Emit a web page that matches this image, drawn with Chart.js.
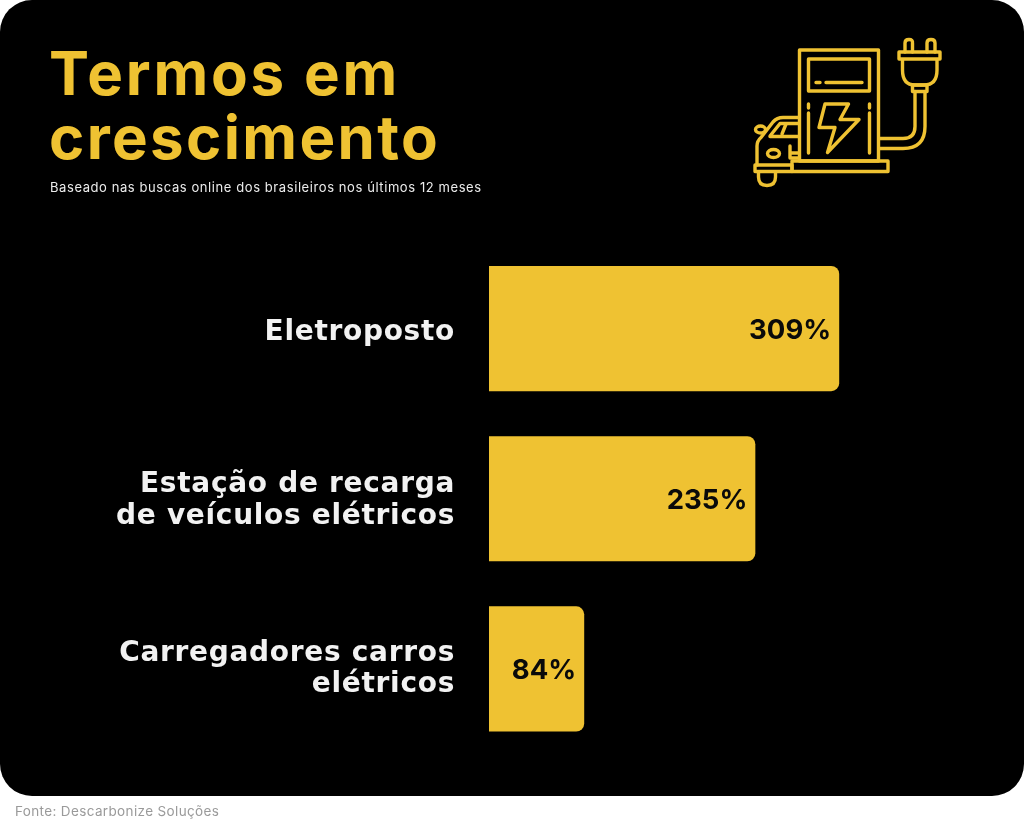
<!DOCTYPE html>
<html lang="pt-BR"><head><meta charset="utf-8">
<style>
html,body{margin:0;padding:0;background:#fff;width:1024px;height:819px;overflow:hidden;font-family:Inter,"Open Sans",sans-serif}
#panel{position:absolute;left:0;top:0;width:1024px;height:796px;background:#000;border-radius:32px}
#chartbox{position:absolute;left:0;top:0;width:1024px;height:819px}
.t{position:absolute;white-space:nowrap}
#t1,#t2{left:49px;color:#efc232;font-weight:700;font-size:60px;line-height:64px;letter-spacing:2.35px}
#t1{top:41px;letter-spacing:2.8px}#t2{top:105px}
#sub{left:50px;top:179px;color:#ececec;font-size:13px;font-weight:400;line-height:16px;letter-spacing:.58px}
#src{left:15px;top:802px;color:#9a9a9a;font-size:13.5px;line-height:18px;letter-spacing:.36px}
svg{position:absolute;left:740px;top:30px}
</style></head><body>
<div id="panel"></div>
<div id="chartbox"><canvas id="c" width="1024" height="819"></canvas></div>
<div class="t" id="t1">Termos em</div>
<div class="t" id="t2">crescimento</div>
<div class="t" id="sub">Baseado nas buscas online dos brasileiros nos últimos 12 meses</div>
<div class="t" id="src">Fonte: Descarbonize Soluções</div>
<svg width="220" height="170" viewBox="740 30 220 170" fill="none" stroke="#efc232" stroke-width="3.4" stroke-linecap="round" stroke-linejoin="round">
<rect x="799.5" y="50" width="79" height="111"/>
<rect x="808.5" y="59" width="61" height="32"/>
<path d="M816 82.5h4M826 82.5h36M808.5 104v4M808.5 113v40M869.5 104v4M869.5 113v40"/>
<path d="M825 104H848.5L840 119.5H859L827.5 152.5L835 127.5H819Z"/>
<rect x="792" y="161" width="96" height="10.5"/>
<path d="M879 138.5H903Q915 138.5 915 126.5V91.5M879 148.5H903Q925 148.5 925 126.5V91.5"/>
<rect x="912.5" y="85" width="14.5" height="6.5"/>
<path d="M899 52H940V59H899ZM902.5 59V70Q902.5 85 915 85H924Q937 85 937 70V59"/>
<path d="M905 52V43Q905 39.500 909 39.500T912.500 43V52M927 52V43Q927 39.500 931 39.500T935 43V52"/>
<path d="M799 117.500H783Q777 117.500 773 122L761 137.500Q757 141 757 146V165M770 136L780 123.500H799M770 136.500H799"/>
<ellipse cx="760.500" cy="129.500" rx="5" ry="3.500"/>
<ellipse cx="773.500" cy="153.500" rx="6" ry="4"/>
<path d="M790 153H799M790 146V158H799M755 165H792V171.500H755ZM758.500 172V177Q758.500 185.500 767 185.500T775.500 177V172M786 124L782 134"/>
</svg>
<script src="https://cdn.jsdelivr.net/npm/chart.js@4/dist/chart.umd.js"></script>
<script>
const categories = [["Eletroposto"],["Estação de recarga","de veículos elétricos"],["Carregadores carros","elétricos"]];
const growth = [309,235,84];
const gold = "#efc232";
const labelNudge = [4,2,0];
const tickStyle = {id:"tickStyle",beforeDraw(chart){
  chart.ctx.letterSpacing="0.7px";
  chart.scales.y.getLabelItems().forEach((item,i)=>{item.options.translation[1]+=labelNudge[i];});
}};
const valueLabels = {id:"valueLabels",afterDatasetsDraw(chart){
  const {ctx}=chart;
  chart.getDatasetMeta(0).data.forEach((bar,i)=>{
    ctx.save();
    ctx.letterSpacing="0px";ctx.font='700 27.5px Inter';ctx.fillStyle="#0a0a0a";ctx.textAlign="right";ctx.textBaseline="middle";
    ctx.fillText(growth[i]+"%",bar.x-8,bar.y+2);
    ctx.restore();
  });
}};
new Chart(document.getElementById("c"),{
  type:"bar",
  data:{labels:categories,datasets:[{data:growth,backgroundColor:gold,borderWidth:0,
    borderRadius:{topRight:8,bottomRight:8,topLeft:0,bottomLeft:0},borderSkipped:false,
    barPercentage:0.736,categoryPercentage:1}]},
  options:{indexAxis:"y",responsive:false,animation:false,
    layout:{padding:{top:243.5,bottom:65,left:0,right:127}},
    plugins:{legend:{display:false},tooltip:{enabled:false}},
    scales:{
      x:{min:0,max:360,display:false},
      y:{grid:{display:false},border:{display:false},
        afterFit(s){s.width=489;},
        ticks:{color:"#f2f2f2",padding:26,autoSkip:false,font:{family:"DejaVu Sans",weight:"700",size:28,lineHeight:1.11}}}
    }},
  plugins:[tickStyle,valueLabels]
});
</script>
</body></html>
